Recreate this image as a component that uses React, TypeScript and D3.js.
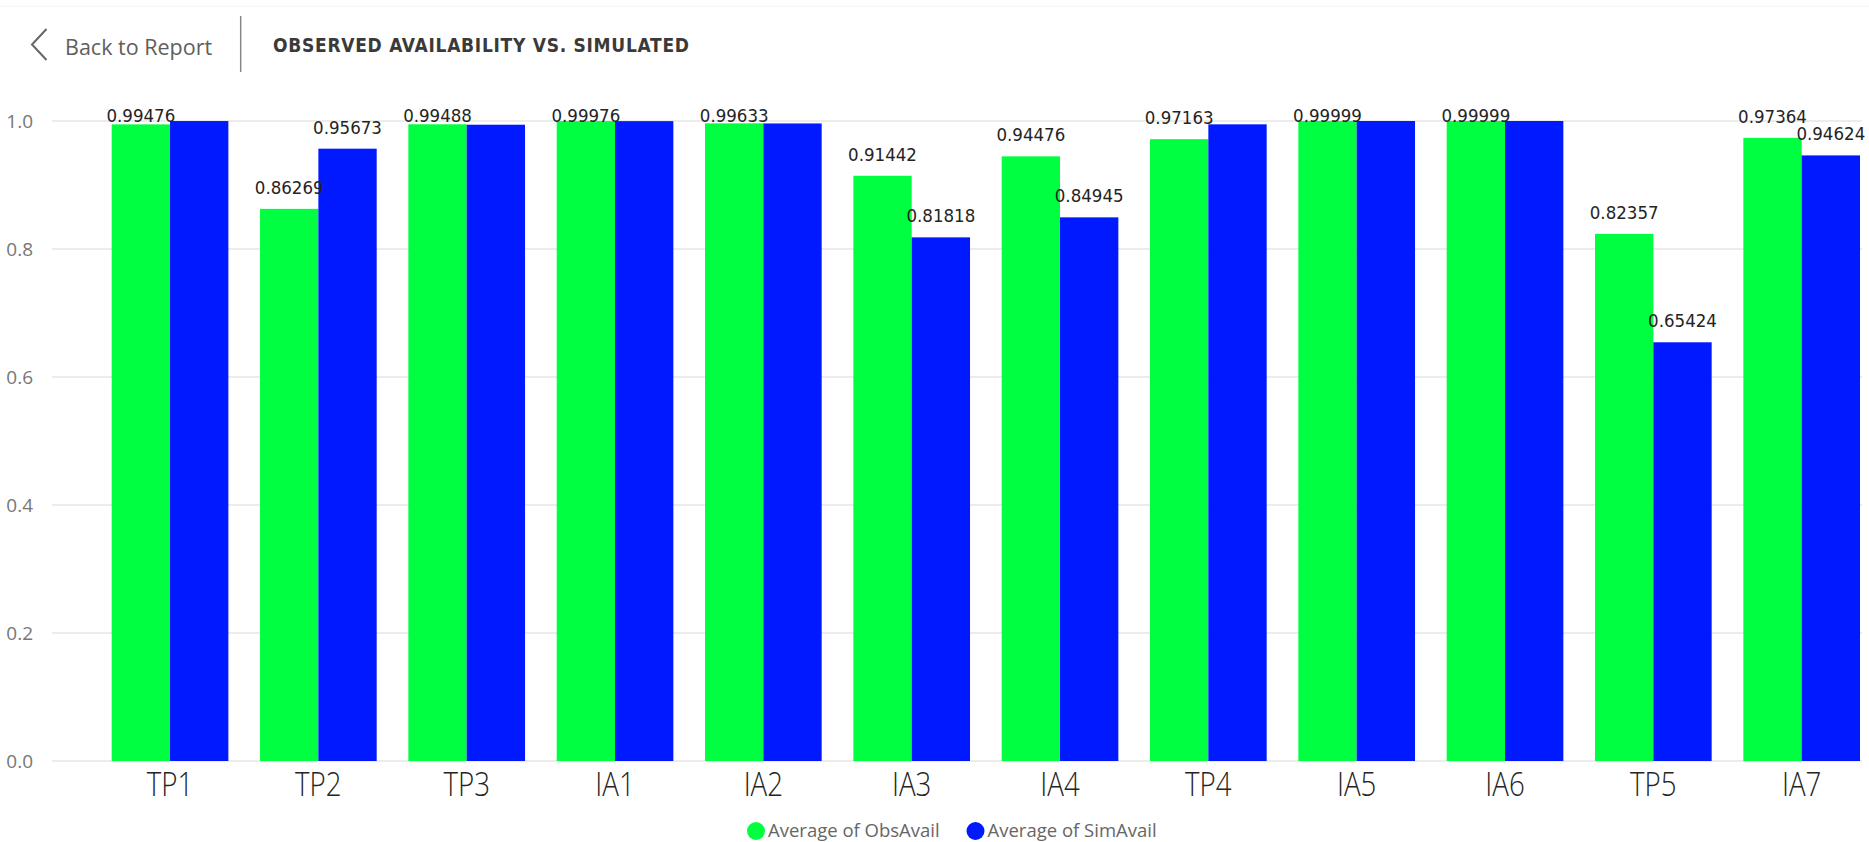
import { scaleBand, scaleLinear } from "d3";

const categories = ["TP1", "TP2", "TP3", "IA1", "IA2", "IA3", "IA4", "TP4", "IA5", "IA6", "TP5", "IA7"];
const obsAvail = [0.99476, 0.86269, 0.99488, 0.99976, 0.99633, 0.91442, 0.94476, 0.97163, 0.99999, 0.99999, 0.82357, 0.97364];
const simAvail = [0.99995, 0.95673, 0.9942, 0.9998, 0.9962, 0.81818, 0.84945, 0.9948, 0.99999, 0.99999, 0.65424, 0.94624];
const yTicks = [0, 0.2, 0.4, 0.6, 0.8, 1.0];
const seriesNames = ["Average of ObsAvail", "Average of SimAvail"];
const colors = ["#00FF40", "#0019FF"];

const width = 1869;
const height = 842;
const labelFont = "'DejaVu Sans Condensed', 'DejaVu Sans', sans-serif";
const uiFont = "'Segoe UI', 'Open Sans', sans-serif";

const App = () => {
    const x = scaleBand<string>()
        .domain(categories)
        .range([111.7, 1860])
        .paddingInner(0.2135)
        .paddingOuter(0);
    const xSub = scaleBand<number>()
        .domain([0, 1])
        .range([0, x.bandwidth()]);
    const y = scaleLinear().domain([0, 1]).range([761, 121]);

    const labelTop = 122;
    const labelY = (v: number) => Math.max(y(v) - 15, labelTop);

    return (
        <>
            <style>{`body{margin:0}`}</style>
            <svg width={width} height={height} style={{ display: "block", background: "#fff" }}>
                {/* header */}
                <line x1={0} x2={width} y1={6} y2={6} stroke="#f2f2f2" />
                <path d="M46.5,29 L32,44.5 L46.5,60" fill="none" stroke="#666" strokeWidth={2} />
                <text x={65} y={54.5} fontFamily={uiFont} fontSize={21.5} fill="#605E5C">Back to Report</text>
                <line x1={240.7} x2={240.7} y1={16} y2={72} stroke="#8a8886" strokeWidth={1.5} />
                <text x={273} y={51.5} fontFamily={labelFont} fontStretch="condensed" fontWeight="bold"
                    fontSize={19} fill="#3b3a39" textLength={416} lengthAdjust="spacing">
                    OBSERVED AVAILABILITY VS. SIMULATED
                </text>

                {/* y grid + ticks */}
                {yTicks.map(t =>
                    <g key={t} transform={`translate(0,${y(t)})`}>
                        <line x1={52} x2={1862} stroke="#e6e6e6" strokeWidth={1.5} />
                        <text x={33} dy="0.35em" textAnchor="end" fontFamily={uiFont} fontSize={19} fill="#777">
                            {t.toFixed(1)}
                        </text>
                    </g>
                )}

                {/* bars */}
                {categories.map((c, i) => {
                    const vals = [obsAvail[i], simAvail[i]];
                    const ly = vals.map(labelY);
                    const hideSim = Math.abs(ly[1] - ly[0]) < 14;
                    return (
                        <g key={c} transform={`translate(${x(c)},0)`}>
                            {vals.map((v, s) =>
                                <rect key={s} x={xSub(s)} y={y(v)} width={xSub.bandwidth()} height={y(0) - y(v)}
                                    fill={colors[s]} />
                            )}
                            {vals.map((v, s) => (s === 1 && hideSim) ? null :
                                <text key={"l" + s} x={(xSub(s) ?? 0) + xSub.bandwidth() / 2} y={ly[s]}
                                    textAnchor="middle" fontFamily={labelFont} fontStretch="condensed"
                                    fontSize={18.5} fill="#252423">
                                    {v.toFixed(5)}
                                </text>
                            )}
                            <text transform={`translate(${x.bandwidth() / 2},796) scale(0.84,1)`} textAnchor="middle"
                                fontFamily={uiFont} fontWeight={300} fontSize={33} fill="#252423">{c}</text>
                        </g>
                    );
                })}

                {/* legend */}
                {seriesNames.map((n, s) => {
                    const lx = [756, 975.5][s];
                    return (
                        <g key={n}>
                            <circle cx={lx} cy={831} r={9} fill={colors[s]} />
                            <text x={lx + 12} y={836.5} fontFamily={uiFont} fontSize={18.5} fill="#666">{n}</text>
                        </g>
                    );
                })}
            </svg>
        </>
    );
};

export default App;
